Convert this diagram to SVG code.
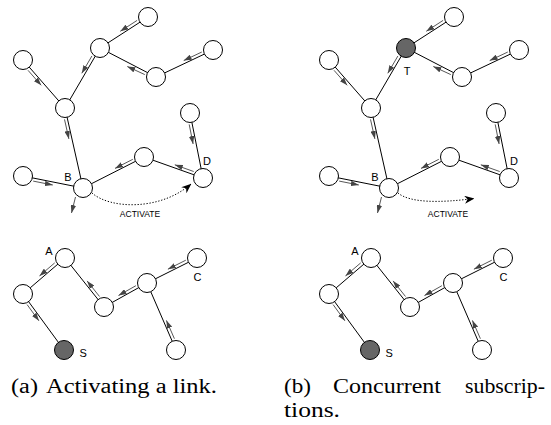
<svg xmlns="http://www.w3.org/2000/svg" width="551" height="425" viewBox="0 0 551 425">
<defs>
<style>
.edge{stroke:#000;stroke-width:1;fill:none}
.flow{stroke:#444;stroke-width:0.9;fill:none;marker-end:url(#ah)}
.node{fill:#fff;stroke:#000;stroke-width:1}
.src{fill:#666}
.act{stroke:#000;stroke-width:1;stroke-dasharray:1.3 1.7;fill:none;marker-end:url(#st)}
.lbl{font-family:"Liberation Sans",Arial,sans-serif;font-size:11px;fill:#000}
.actl{font-family:"Liberation Sans",Arial,sans-serif;font-size:8.5px;fill:#000}
.cap{font-family:"Liberation Serif","Times New Roman",serif;font-size:20px;fill:#000}
</style>
<marker id="ah" markerUnits="userSpaceOnUse" viewBox="0 0 8 5.5" markerWidth="8" markerHeight="5.5" refX="8" refY="2.75" orient="auto"><path d="M0,0L8,2.75L0,5.5z" fill="#444"/></marker>
<marker id="st" markerUnits="userSpaceOnUse" viewBox="0 0 10 8" markerWidth="10" markerHeight="8" refX="9.5" refY="4" orient="auto"><path d="M0,0L10,4L0,8L3,4z" fill="#000"/></marker>
</defs>

<!-- Panel (a) -->
<g id="panel-a">
<g id="a-connectors">
<line class="edge" x1="148" y1="17" x2="100" y2="48"/>
<line class="edge" x1="100" y1="48" x2="156" y2="77"/>
<line class="edge" x1="156" y1="77" x2="213" y2="50"/>
<line class="edge" x1="100" y1="48" x2="65" y2="108"/>
<line class="edge" x1="23" y1="60" x2="65" y2="108"/>
<line class="edge" x1="65" y1="108" x2="83" y2="188"/>
<line class="edge" x1="83" y1="188" x2="144" y2="157"/>
<line class="edge" x1="144" y1="157" x2="203" y2="178"/>
<line class="edge" x1="203" y1="178" x2="190" y2="113"/>
<line class="edge" x1="23" y1="176" x2="83" y2="188"/>
<line class="edge" x1="65" y1="258" x2="23" y2="294"/>
<line class="edge" x1="23" y1="294" x2="64" y2="350"/>
<line class="edge" x1="65" y1="258" x2="104" y2="307"/>
<line class="edge" x1="104" y1="307" x2="147" y2="283"/>
<line class="edge" x1="147" y1="283" x2="197" y2="258"/>
<line class="edge" x1="147" y1="283" x2="176" y2="350"/>
<line class="flow" x1="137.1" y1="20.4" x2="120.3" y2="31.3"/>
<line class="flow" x1="201.8" y1="52.0" x2="183.7" y2="60.6"/>
<line class="flow" x1="144.8" y1="74.6" x2="127.3" y2="66.5"/>
<line class="flow" x1="91.9" y1="56.0" x2="81.8" y2="73.3"/>
<line class="flow" x1="28.0" y1="70.3" x2="41.2" y2="85.3"/>
<line class="flow" x1="64.5" y1="119.4" x2="68.9" y2="138.9"/>
<line class="flow" x1="189.2" y1="124.4" x2="193.1" y2="144.0"/>
<line class="flow" x1="132.8" y1="159.3" x2="115.0" y2="168.4"/>
<line class="flow" x1="193.7" y1="171.5" x2="174.8" y2="164.8"/>
<line class="flow" x1="33.2" y1="181.1" x2="52.8" y2="185.0"/>
<line class="flow" x1="75.5" y1="197" x2="71.5" y2="213"/>
<line class="flow" x1="54.7" y1="262.9" x2="39.5" y2="275.9"/>
<line class="flow" x1="27.1" y1="304.6" x2="38.9" y2="320.8"/>
<line class="flow" x1="99.5" y1="296.5" x2="87.1" y2="280.9"/>
<line class="flow" x1="135.9" y1="285.7" x2="118.5" y2="295.5"/>
<line class="flow" x1="185.8" y1="260.2" x2="167.9" y2="269.2"/>
<line class="flow" x1="174.4" y1="338.7" x2="166.4" y2="320.4"/>
<path class="act" d="M92,193 C110,209 160,211 191,184"/>
<text class="actl" x="140" y="216.5" text-anchor="middle">ACTIVATE</text>
</g>
<g id="a-n1"><circle class="node" cx="148" cy="17" r="9.5"/></g>
<g id="a-n2"><circle class="node" cx="100" cy="48" r="9.5"/></g>
<g id="a-n3"><circle class="node" cx="213" cy="50" r="9.5"/></g>
<g id="a-n4"><circle class="node" cx="156" cy="77" r="9.5"/></g>
<g id="a-n5"><circle class="node" cx="23" cy="60" r="9.5"/></g>
<g id="a-n6"><circle class="node" cx="65" cy="108" r="9.5"/></g>
<g id="a-n7"><circle class="node" cx="190" cy="113" r="9.5"/></g>
<g id="a-B"><circle class="node" cx="83" cy="188" r="9.5"/><text class="lbl" x="68" y="181" text-anchor="middle">B</text></g>
<g id="a-n9"><circle class="node" cx="144" cy="157" r="9.5"/></g>
<g id="a-D"><circle class="node" cx="203" cy="178" r="9.5"/><text class="lbl" x="207" y="165" text-anchor="middle">D</text></g>
<g id="a-n11"><circle class="node" cx="23" cy="176" r="9.5"/></g>
<g id="a-A"><circle class="node" cx="65" cy="258" r="9.5"/><text class="lbl" x="49" y="255" text-anchor="middle">A</text></g>
<g id="a-m2"><circle class="node" cx="23" cy="294" r="9.5"/></g>
<g id="a-S"><circle class="node src" cx="64" cy="350" r="9.5"/><text class="lbl" x="79.5" y="356.5">S</text></g>
<g id="a-m4"><circle class="node" cx="104" cy="307" r="9.5"/></g>
<g id="a-m5"><circle class="node" cx="147" cy="283" r="9.5"/></g>
<g id="a-C"><circle class="node" cx="197" cy="258" r="9.5"/><text class="lbl" x="197.5" y="281" text-anchor="middle">C</text></g>
<g id="a-m7"><circle class="node" cx="176" cy="350" r="9.5"/></g>
</g>

<!-- Panel (b) -->
<g id="panel-b" transform="translate(306,0)">
<g id="b-connectors">
<line class="edge" x1="148" y1="17" x2="100" y2="48"/>
<line class="edge" x1="100" y1="48" x2="156" y2="77"/>
<line class="edge" x1="156" y1="77" x2="213" y2="50"/>
<line class="edge" x1="100" y1="48" x2="65" y2="108"/>
<line class="edge" x1="23" y1="60" x2="65" y2="108"/>
<line class="edge" x1="65" y1="108" x2="83" y2="188"/>
<line class="edge" x1="83" y1="188" x2="144" y2="157"/>
<line class="edge" x1="144" y1="157" x2="203" y2="178"/>
<line class="edge" x1="203" y1="178" x2="190" y2="113"/>
<line class="edge" x1="23" y1="176" x2="83" y2="188"/>
<line class="edge" x1="65" y1="258" x2="23" y2="294"/>
<line class="edge" x1="23" y1="294" x2="64" y2="350"/>
<line class="edge" x1="65" y1="258" x2="104" y2="307"/>
<line class="edge" x1="104" y1="307" x2="147" y2="283"/>
<line class="edge" x1="147" y1="283" x2="197" y2="258"/>
<line class="edge" x1="147" y1="283" x2="176" y2="350"/>
<line class="flow" x1="137.1" y1="20.4" x2="120.3" y2="31.3"/>
<line class="flow" x1="201.8" y1="52.0" x2="183.7" y2="60.6"/>
<line class="flow" x1="144.8" y1="74.6" x2="127.3" y2="66.5"/>
<line class="flow" x1="91.9" y1="56.0" x2="81.8" y2="73.3"/>
<line class="flow" x1="28.0" y1="70.3" x2="41.2" y2="85.3"/>
<line class="flow" x1="64.5" y1="119.4" x2="68.9" y2="138.9"/>
<line class="flow" x1="189.2" y1="124.4" x2="193.1" y2="144.0"/>
<line class="flow" x1="132.8" y1="159.3" x2="115.0" y2="168.4"/>
<line class="flow" x1="193.7" y1="171.5" x2="174.8" y2="164.8"/>
<line class="flow" x1="33.2" y1="181.1" x2="52.8" y2="185.0"/>
<line class="flow" x1="75.5" y1="197" x2="71.5" y2="213"/>
<line class="flow" x1="54.7" y1="262.9" x2="39.5" y2="275.9"/>
<line class="flow" x1="27.1" y1="304.6" x2="38.9" y2="320.8"/>
<line class="flow" x1="99.5" y1="296.5" x2="87.1" y2="280.9"/>
<line class="flow" x1="135.9" y1="285.7" x2="118.5" y2="295.5"/>
<line class="flow" x1="185.8" y1="260.2" x2="167.9" y2="269.2"/>
<line class="flow" x1="174.4" y1="338.7" x2="166.4" y2="320.4"/>
<path class="act" d="M92,193 C104,203 134,203 168,198.5"/>
<text class="actl" x="142" y="216.5" text-anchor="middle">ACTIVATE</text>
</g>
<g id="b-n1"><circle class="node" cx="148" cy="17" r="9.5"/></g>
<g id="b-T"><circle class="node src" cx="100" cy="48" r="9.5"/><text class="lbl" x="101" y="75" text-anchor="middle">T</text></g>
<g id="b-n3"><circle class="node" cx="213" cy="50" r="9.5"/></g>
<g id="b-n4"><circle class="node" cx="156" cy="77" r="9.5"/></g>
<g id="b-n5"><circle class="node" cx="23" cy="60" r="9.5"/></g>
<g id="b-n6"><circle class="node" cx="65" cy="108" r="9.5"/></g>
<g id="b-n7"><circle class="node" cx="190" cy="113" r="9.5"/></g>
<g id="b-B"><circle class="node" cx="83" cy="188" r="9.5"/><text class="lbl" x="69" y="181" text-anchor="middle">B</text></g>
<g id="b-n9"><circle class="node" cx="144" cy="157" r="9.5"/></g>
<g id="b-D"><circle class="node" cx="203" cy="178" r="9.5"/><text class="lbl" x="208" y="165" text-anchor="middle">D</text></g>
<g id="b-n11"><circle class="node" cx="23" cy="176" r="9.5"/></g>
<g id="b-A"><circle class="node" cx="65" cy="258" r="9.5"/><text class="lbl" x="49" y="255" text-anchor="middle">A</text></g>
<g id="b-m2"><circle class="node" cx="23" cy="294" r="9.5"/></g>
<g id="b-S"><circle class="node src" cx="64" cy="350" r="9.5"/><text class="lbl" x="79.5" y="356.5">S</text></g>
<g id="b-m4"><circle class="node" cx="104" cy="307" r="9.5"/></g>
<g id="b-m5"><circle class="node" cx="147" cy="283" r="9.5"/></g>
<g id="b-C"><circle class="node" cx="197" cy="258" r="9.5"/><text class="lbl" x="197.5" y="281" text-anchor="middle">C</text></g>
<g id="b-m7"><circle class="node" cx="176" cy="350" r="9.5"/></g>
</g>

<!-- Captions -->
<g id="captions">
<text class="cap" x="11" y="393" textLength="27" lengthAdjust="spacingAndGlyphs">(a)</text>
<text class="cap" x="46" y="393" textLength="171" lengthAdjust="spacingAndGlyphs">Activating a link.</text>
<text class="cap" x="284" y="393" textLength="27" lengthAdjust="spacingAndGlyphs">(b)</text>
<text class="cap" x="333" y="393" textLength="108" lengthAdjust="spacingAndGlyphs">Concurrent</text>
<text class="cap" x="465" y="393" textLength="80" lengthAdjust="spacingAndGlyphs">subscrip-</text>
<text class="cap" x="284" y="417" textLength="56" lengthAdjust="spacingAndGlyphs">tions.</text>
</g>
</svg>
